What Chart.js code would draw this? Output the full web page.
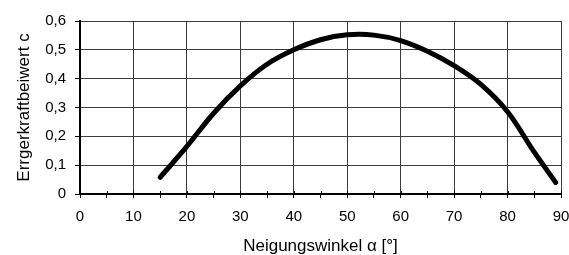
<!DOCTYPE html>
<html>
<head>
<meta charset="utf-8">
<script src="https://cdn.jsdelivr.net/npm/chart.js@4.4.1/dist/chart.umd.min.js"></script>
<style>
  html, body { margin: 0; padding: 0; background: #fff; }
  #wrap { width: 569px; height: 255px; }
</style>
</head>
<body>
<div id="wrap"><canvas id="coeffChart"></canvas></div>
<script>
// Neigungswinkel (deg) and Erregerkraftbeiwert
const angles = [15, 20, 25, 30, 35, 40, 45, 50, 55, 60, 65, 70, 75, 80, 85, 89];
const coeffs = [0.058, 0.165, 0.28, 0.375, 0.45, 0.5, 0.535, 0.552, 0.551, 0.532, 0.495, 0.445, 0.38, 0.285, 0.145, 0.04];

const xTitle = 'Neigungswinkel \u03b1 [\u00b0]';
const yTitle = 'Errgerkraftbeiwert c';

Chart.defaults.font.family = "'Liberation Sans', Arial, sans-serif";
Chart.defaults.color = '#000';

/// short marks above the x axis (Excel style ticks crossing the axis)
const crossTicks = {
    id: 'crossTicks',
    afterDraw(chart) {
        const x = chart.scales.x;
        const ctx = chart.ctx;
        ctx.save();
        ctx.strokeStyle = '#000';
        ctx.lineWidth = 1;
        x.ticks.forEach(t => {
            const px = Math.round(x.getPixelForValue(t.value)) + 0.5;
            ctx.beginPath();
            ctx.moveTo(px, x.top);
            ctx.lineTo(px, x.top - 3);
            ctx.stroke();
        });
        ctx.restore();
    }
};

const coeffChart = new Chart('coeffChart', {
    type: 'line',
    data: {
        datasets: [
            {
                label: 'c',
                data: angles.map((a, i) => ({ x: a, y: coeffs[i] })),
                borderColor: '#000',
                backgroundColor: '#000',
                borderWidth: 5,
                borderCapStyle: 'round',
                borderJoinStyle: 'round',
                tension: 0.35,
                pointRadius: 0,
                fill: false
            }
        ]
    },
    options: {
        responsive: true,
        maintainAspectRatio: false,
        animation: false,
        layout: {
            padding: { top: 21, right: 8, left: 0, bottom: 0 }
        },
        plugins: {
            legend: { display: false },
            tooltip: { enabled: false }
        },
        scales: {
            x: {
                type: 'linear',
                min: 0,
                max: 90,
                afterFit: s => {
                    s.height = 61;
                    s.paddingLeft = 0;
                    s.paddingRight = 0;
                },
                ticks: {
                    stepSize: 5,
                    autoSkip: false,
                    maxRotation: 0,
                    padding: 10,
                    font: { size: 15 },
                    callback: v => (v % 10 === 0 ? String(v) : '')
                },
                grid: {
                    color: c => (c.tick && c.tick.value % 10 === 0 ? '#3c3c3c' : 'rgba(0,0,0,0)'),
                    tickColor: '#000',
                    tickLength: 4,
                    lineWidth: 1
                },
                border: { color: '#000', width: 2 },
                title: {
                    display: true,
                    text: xTitle,
                    font: { size: 17, lineHeight: 1 },
                    padding: { top: 0, bottom: 0 }
                }
            },
            y: {
                min: 0,
                max: 0.6,
                afterFit: s => { s.width = 80; },
                ticks: {
                    stepSize: 0.1,
                    padding: 9,
                    font: { size: 15 },
                    callback: v => (v === 0 ? '0' : v.toFixed(1).replace('.', ','))
                },
                grid: {
                    color: '#3c3c3c',
                    tickColor: '#000',
                    tickLength: 5,
                    lineWidth: 1
                },
                border: { color: '#000', width: 2 },
                title: {
                    display: true,
                    text: yTitle,
                    font: { size: 17, lineHeight: 1 },
                    padding: { top: 16, bottom: 0 }
                }
            }
        }
    },
    plugins: [crossTicks]
});
</script>
</body>
</html>
